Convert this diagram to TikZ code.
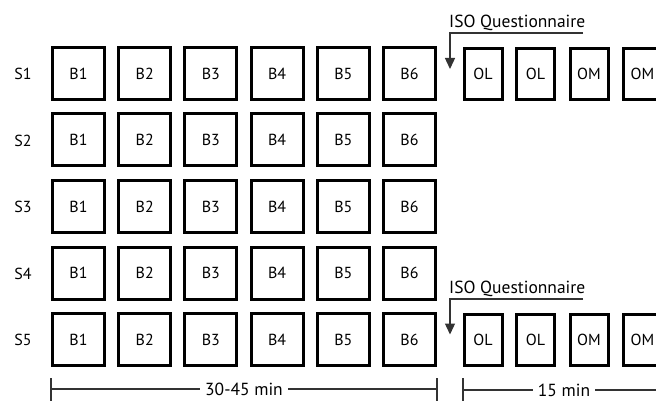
\documentclass[tikz,border=0pt]{standalone}
\usepackage{fontspec}
\setmainfont{PT Sans}
\usetikzlibrary{arrows.meta}
\begin{document}
\begin{tikzpicture}[x=1pt,y=-1pt,
  bbox/.style={draw=black, line width=3pt, minimum width=52pt, minimum height=52pt, inner sep=0pt, font=\fontsize{16}{18}\selectfont},
  obox/.style={draw=black, line width=3pt, minimum width=38pt, minimum height=51pt, inner sep=0pt, font=\fontsize{16}{18}\selectfont},
  slab/.style={font=\fontsize{16}{18}\selectfont},
  qlab/.style={font=\fontsize{17.5}{20}\selectfont, inner sep=0pt, anchor=base west},
  thin/.style={line width=1.3pt, draw=black!80},
  arr/.style={thin, -{Triangle[length=11pt, width=10pt]}},
  dimlab/.style={fill=white, inner xsep=5pt, inner ysep=0pt, font=\fontsize{17.5}{19}\selectfont}
]
\useasboundingbox (0,0) rectangle (656,401);
\clip (0,0) rectangle (656,401);
% session labels and B boxes
\foreach \j in {1,...,5} {
  \node[slab] (s\j) at (23, {74+66.5*(\j-1)}) {S\j};
  \foreach \i in {1,...,6} {
    \node[bbox] (b\j-\i) at ({78.5+66.2*(\i-1)}, {73.5+66.5*(\j-1)}) {B\i};
  }
}
% O boxes for S1 and S5
\foreach \j/\yy in {1/74, 5/339.5} {
  \node[obox] (o\j-1) at (483, \yy) {OL};
  \node[obox] (o\j-2) at (535.5, \yy) {OL};
  \node[obox] (o\j-3) at (589, \yy) {OM};
  \node[obox] (o\j-4) at (642.5, \yy) {OM};
}
% ISO questionnaire arrows
\node[qlab] (q1) at (449, 27.5) {ISO Questionnaire};
\coordinate (qe1) at (583, 33);
\coordinate (qc1) at (450, 33);
\coordinate (qt1) at (450, 69);
\draw[arr] (qe1) -- (qc1) -- (qt1);
\node[qlab] (q5) at (449, 293) {ISO Questionnaire};
\coordinate (qe5) at (583, 299);
\coordinate (qc5) at (450, 299);
\coordinate (qt5) at (450, 334.5);
\draw[arr] (qe5) -- (qc5) -- (qt5);
% dimension lines
\coordinate (d1l) at (51, 389);
\coordinate (d1r) at (437, 389);
\coordinate (d2l) at (463, 390);
\coordinate (d2r) at (665, 390);
\draw[thin] (51,378) -- (51,405);
\draw[thin] (437,378) -- (437,405);
\draw[thin] (463,378) -- (463,405);
\draw[thin] (d1l) -- node[dimlab] (t1) {30-45 min} (d1r);
\draw[thin] (d2l) -- node[dimlab] (t2) {15 min} (d2r);
\end{tikzpicture}
\end{document}
